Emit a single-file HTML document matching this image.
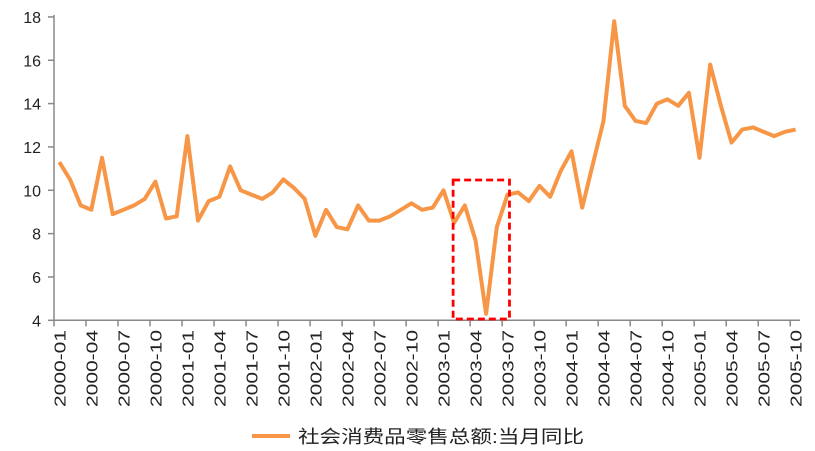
<!DOCTYPE html>
<html><head><meta charset="utf-8"><style>
html,body{margin:0;padding:0;background:#fff;}
svg text{font-family:"Liberation Sans","Noto Sans CJK SC",sans-serif;fill:#222;}
</style></head><body>
<svg id="c" width="815" height="446"></svg>
<script>
const categories=[];
for(let y=2000;y<=2005;y++)for(let m=1;m<=12;m++){if(y===2005&&m>10)break;categories.push(y+'-'+String(m).padStart(2,'0'));}
const values=[11.3,10.5,9.3,9.1,11.5,8.9,9.1,9.3,9.6,10.4,8.7,8.8,12.5,8.6,9.5,9.7,11.1,10.0,9.8,9.6,9.9,10.5,10.1,9.6,
7.9,9.1,8.3,8.2,9.3,8.6,8.6,8.8,9.1,9.4,9.1,9.2,10.0,8.5,9.3,7.7,4.3,8.3,9.8,9.9,9.5,10.2,9.7,10.9,
11.8,9.2,11.2,13.2,17.8,13.9,13.2,13.1,14.0,14.2,13.9,14.5,11.5,15.8,13.9,12.2,12.8,12.9,12.7,12.5,12.7,12.8];
const yTicks=[4,6,8,10,12,14,16,18];
const NS='http://www.w3.org/2000/svg';
const svg=document.getElementById('c');
const L=54,R=800,catW=10.67;
const x=i=>L+(i+0.5)*catW;
const y=v=>320.3-(v-4)*21.67;
function el(t,a,p){const e=document.createElementNS(NS,t);for(const k in a)e.setAttribute(k,a[k]);(p||svg).appendChild(e);return e;}
const ax=el('g',{});


el('line',{x1:L,y1:y(18)-2,x2:L,y2:y(4),stroke:'#888','stroke-width':1.5},ax);
el('line',{x1:L,y1:y(4),x2:R,y2:y(4),stroke:'#888','stroke-width':1.5},ax);
yTicks.forEach(v=>{
  el('line',{x1:L-6,y1:y(v),x2:L,y2:y(v),stroke:'#888','stroke-width':1.5},ax);
  const t=el('text',{x:L-13,y:y(v)+6,'text-anchor':'end','font-size':16},ax);
  
  
  t.textContent=v;
});
for(let i=0;i<=categories.length;i+=3){
  el('line',{x1:L+i*catW,y1:y(4),x2:L+i*catW,y2:y(4)+6,stroke:'#888','stroke-width':1.5},ax);
}
categories.forEach((c,i)=>{
  if(i%3!==0)return;
  const t=el('text',{transform:`translate(${x(i)+6},330) rotate(-90)`,'text-anchor':'end','font-size':16,textLength:77,lengthAdjust:'spacingAndGlyphs'},ax);
  
  
  t.textContent=c;
});
const pts=values.map((v,i)=>x(i).toFixed(1)+','+y(v).toFixed(1)).join(' ');
const line=el('polyline',{points:pts,fill:'none',stroke:'#F79646','stroke-width':4,'stroke-linejoin':'round'});


const box=el('rect',{x:x(37)-1,y:180,width:x(42)-x(37)+3,height:139,fill:'none',stroke:'#f00','stroke-width':2.8,'stroke-dasharray':'7,4'});


const lg=el('g',{});


el('line',{x1:252,y1:436,x2:290,y2:436,stroke:'#F79646','stroke-width':4},lg);
const lt=el('text',{x:298,y:443,'font-size':18,textLength:286,lengthAdjust:'spacingAndGlyphs'},lg);
lt.textContent='社会消费品零售总额:当月同比';
</script>
</body></html>
